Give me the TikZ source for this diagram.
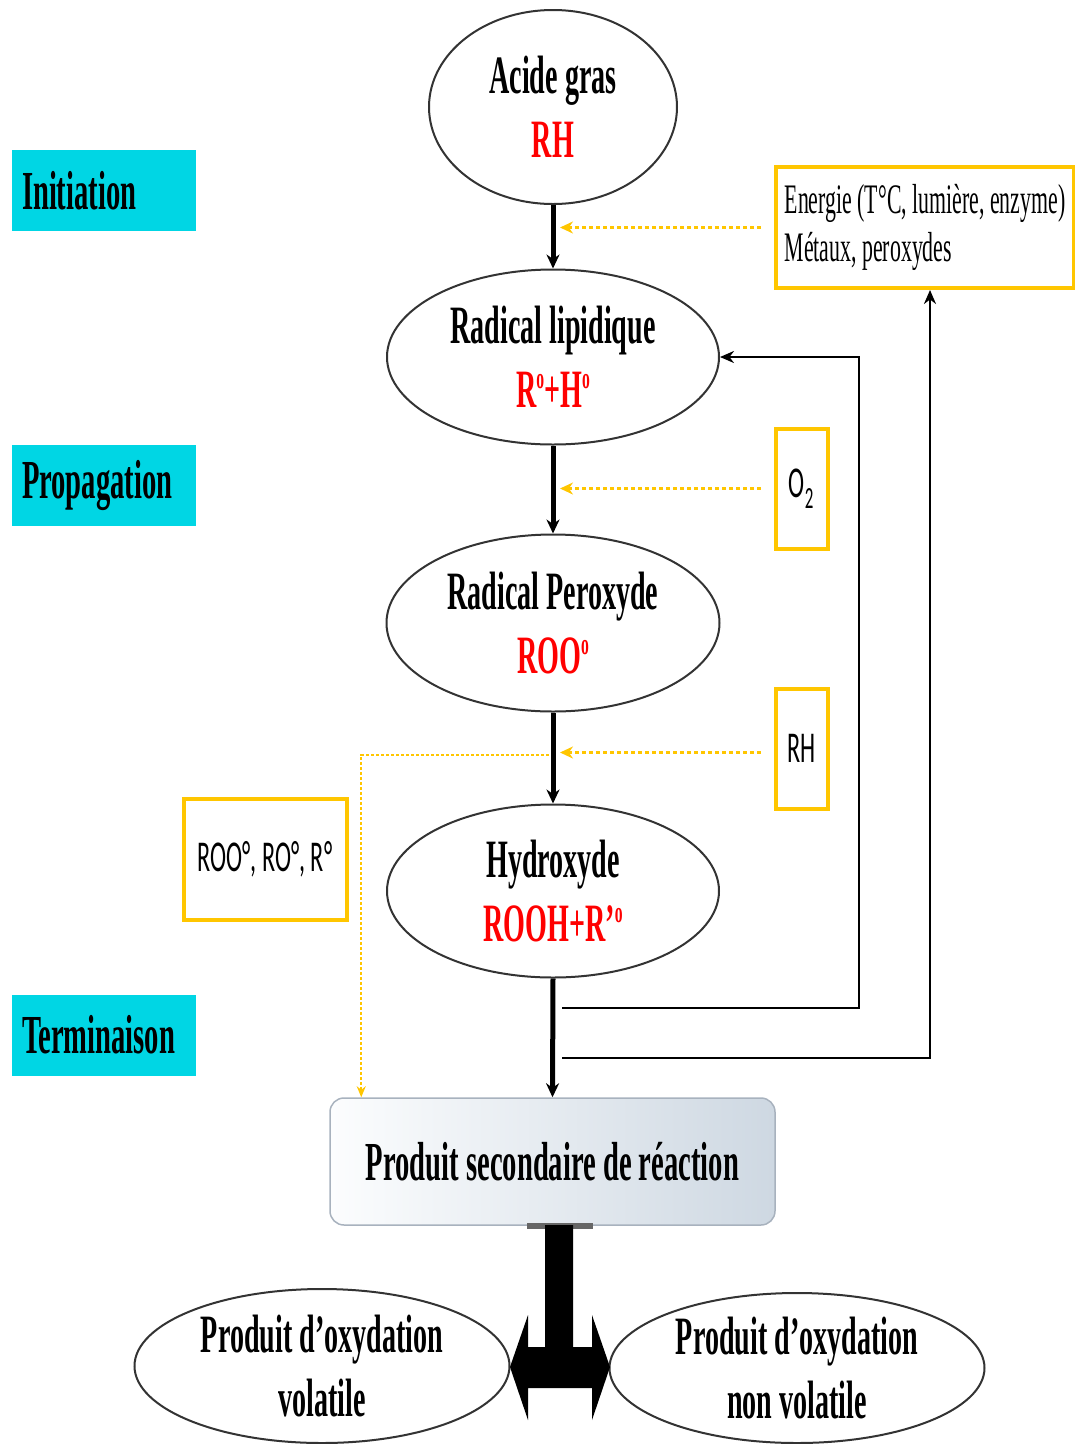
\documentclass[tikz,border=0pt]{standalone}
\usepackage{fontspec}
\usetikzlibrary{shapes.geometric,arrows.meta,calc}
\newfontfamily\tb{Liberation Serif}[FakeStretch=0.52]
\newfontfamily\sfc{Carlito}[FakeStretch=0.55]
\definecolor{cyanbox}{RGB}{0,214,228}
\definecolor{ybox}{RGB}{255,198,0}
\definecolor{rred}{RGB}{255,0,0}
\definecolor{rectR}{RGB}{206,216,226}
\definecolor{rectL}{RGB}{252,253,254}
\definecolor{rectB}{RGB}{168,178,190}
\newcommand\dego{\raisebox{0.36em}{\fontsize{30}{30}\selectfont o}}
\begin{document}
\begin{tikzpicture}[x=1pt,y=-1pt,
  ell/.style={ellipse, draw=black!80, line width=2, inner sep=0, align=center,
    font=\tb\bfseries\fontsize{54}{64}\selectfont},
  stage/.style={fill=cyanbox, minimum width=184, minimum height=81, inner xsep=10,
    text width=164, align=left, font=\tb\bfseries\fontsize{55}{60}\selectfont},
  ybx/.style={draw=ybox, line width=4, inner sep=0, align=center},
  sfont/.style={font=\sfc\fontsize{44}{50}\selectfont},
  mainarr/.style={line width=5, -{Stealth[length=14,width=13]}},
  ydot/.style={draw=ybox, line width=2.5, dash pattern=on 4 off 3, -{Stealth[length=13,width=12]}},
  ythin/.style={draw=ybox, line width=2, dash pattern=on 3 off 2, -{Stealth[length=11,width=9]}},
  fb/.style={line width=2.5, -{Stealth[length=14,width=12]}}
]
\useasboundingbox (0,0) rectangle (1075,1444);

% stage labels
\node[stage] (init) at (104,190.5) {Initiation};
\node[stage] (prop) at (104,485.5) {Propagation};
\node[stage] (term) at (104,1035) {Terminaison};

% main ellipses
\node[ell, minimum width=248, minimum height=194] (e1) at (553,107) {Acide gras\\\textcolor{rred}{RH}};
\node[ell, minimum width=332, minimum height=175] (e2) at (553,357) {Radical lipidique\\\textcolor{rred}{R\dego+H\dego}};
\node[ell, minimum width=333, minimum height=177] (e3) at (553,623) {Radical Peroxyde\\\textcolor{rred}{ROO\dego}};
\node[ell, minimum width=332, minimum height=173] (e4) at (553,891) {Hydroxyde\\\textcolor{rred}{ROOH+R’\dego}};

% product box
\node[draw=rectB, line width=1.5, rounded corners=14, left color=rectL, right color=rectR,
  minimum width=445, minimum height=127, inner sep=0,
  font=\tb\bfseries\fontsize{55}{60}\selectfont] (p) at (552.5,1161.5) {Produit secondaire de réaction};

% bottom ellipses
\node[ell, minimum width=375, minimum height=154] (v) at (322,1366) {Produit d’oxydation\\volatile};
\node[ell, minimum width=375, minimum height=150] (nv) at (797,1368) {Produit d’oxydation\\non volatile};

% yellow boxes
\node[ybx, minimum width=298, minimum height=121, align=left,
  font=\tb\fontsize{42}{48}\selectfont] (en) at (925,227.5) {Energie (T°C, lumière, enzyme)\\Métaux, peroxydes};
\node[ybx, sfont, minimum width=52, minimum height=120] (o2) at (801.5,488.5) {O\textsubscript{2}};
\node[ybx, sfont, minimum width=52, minimum height=120] (rh) at (801.5,748.5) {RH};
\node[ybx, sfont, minimum width=163, minimum height=121] (roo) at (265,859) {ROO°, RO°, R°};

% main arrows
\draw[mainarr] (e1.south) -- (e2.north);
\draw[mainarr] (e2.south) -- (e3.north);
\draw[mainarr] (e3.south) -- (e4.north);
\draw[mainarr] (e4.south) -- (p.north);

% yellow dotted arrows
\draw[ydot] ([xshift=-13]en.west) -- ([xshift=7]en.west -| e1.south);
\draw[ydot] ([xshift=-13]o2.west) -- ([xshift=7]o2.west -| e2.south);
\draw[ydot] ([xshift=-13,yshift=-4]rh.west) -- ([xshift=7,yshift=-4]rh.west -| e3.south);
\coordinate (d0) at (549,755);
\draw[ythin] (d0) -| ([xshift=32]p.north west);

% feedback lines
\coordinate (f1) at (562,1008);
\coordinate (f2) at (562,1058);
\draw[fb] (f1) -| ($(e2.east)+(139,0)$) -- (e2.east);
\draw[fb] (f2) -| ([xshift=5]en.south);

% bottom double arrow
\fill[black!60] (527,1223) rectangle (593,1229);
\fill[black] (545,1225) -- (573,1225) -- (573,1347) -- (592,1347) -- (592,1315) -- (610,1367)
  -- (592,1420) -- (592,1388) -- (528,1388) -- (528,1420) -- (510,1367) -- (528,1315)
  -- (528,1347) -- (545,1347) -- cycle;
\end{tikzpicture}
\end{document}
